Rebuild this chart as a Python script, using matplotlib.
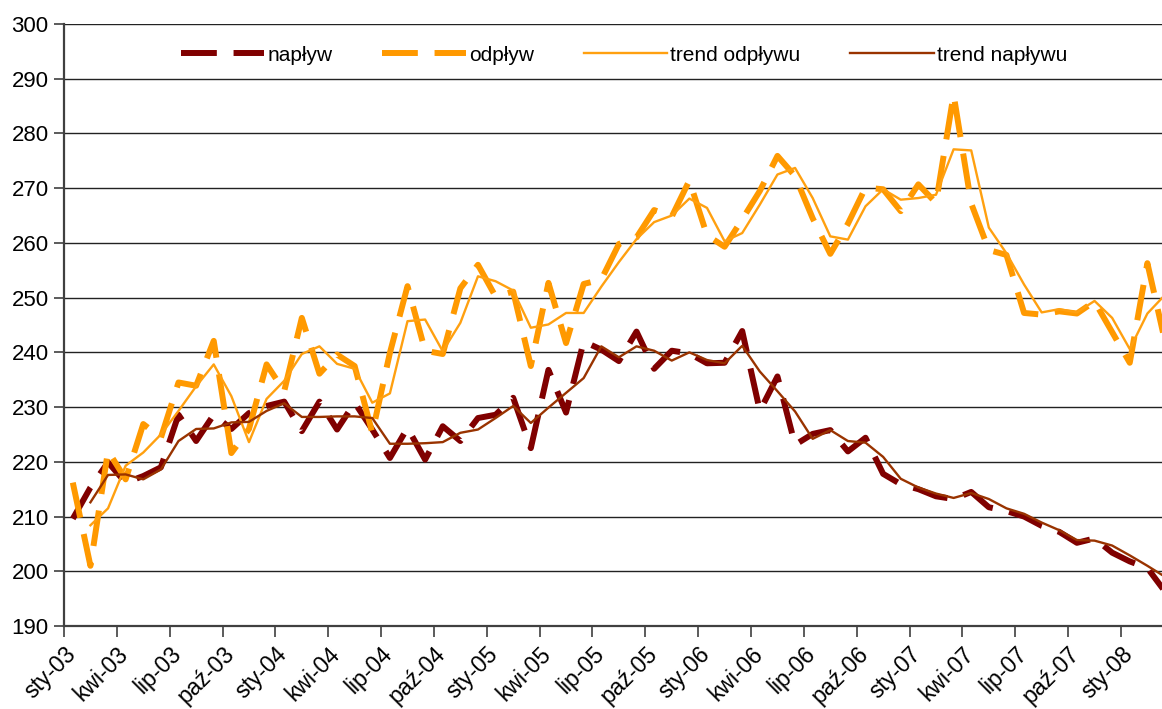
import numpy as np
import matplotlib
matplotlib.use('Agg')
import matplotlib.pyplot as plt

plt.rcParams['font.family'] = ['Liberation Sans', 'DejaVu Sans']

# months sty-03 .. mar-08
month_names = ['sty', 'lut', 'mar', 'kwi', 'maj', 'cze', 'lip', 'sie', 'wrz', 'paź', 'lis', 'gru']
months = [f'{m}-{y:02d}' for y in range(3, 9) for m in month_names][:63]

naplyw = [209.6, 215.3, 219.9, 216.2, 217.4, 219.0, 228.6, 223.8, 228.6, 226.0,
          228.9, 230.2, 231.0, 225.6, 231.0, 225.9, 230.8, 225.9, 220.7, 226.2,
          220.4, 226.5, 223.8, 228.0, 228.6, 231.7, 222.5, 236.8, 229.0, 242.0,
          240.5, 238.4, 243.8, 237.0, 240.3, 239.8, 238.0, 238.1, 243.9, 229.3,
          235.6, 223.1, 225.1, 225.8, 221.9, 224.4, 217.8, 215.9, 215.0, 213.7,
          213.2, 214.5, 211.7, 211.0, 210.0, 208.3, 207.2, 205.2, 206.0, 203.4,
          201.8, 200.6, 196.3]

odplyw = [216.2, 201.0, 222.0, 216.8, 226.9, 224.4, 234.5, 233.9, 242.1, 221.6,
          226.0, 237.8, 232.9, 246.3, 236.1, 239.6, 237.5, 225.3, 239.9, 252.1,
          240.3, 239.7, 251.7, 256.0, 250.2, 251.1, 237.5, 252.7, 241.7, 252.5,
          253.3, 259.8, 261.0, 266.0, 264.8, 271.4, 261.4, 259.3, 264.3, 269.5,
          275.9, 272.2, 264.5, 258.0, 263.5, 270.1, 269.8, 265.8, 270.7, 267.3,
          287.1, 267.2, 258.7, 257.8, 247.2, 246.9, 247.5, 247.1, 249.3, 243.7,
          238.1, 256.3, 242.0]

trend_odplywu = [np.nan, 208.4, 211.5, 219.3, 221.7, 225.0, 229.3, 233.8, 237.8, 232.0,
                 223.6, 231.5, 234.8, 239.7, 241.1, 237.9, 237.0, 230.8, 232.5, 245.7,
                 246.0, 240.2, 245.4, 253.9, 253.0, 251.3, 244.5, 245.1, 247.2, 247.2,
                 252.0, 256.5, 260.7, 263.8, 265.0, 268.1, 266.4, 260.3, 261.8, 267.0,
                 272.5, 273.7, 268.2, 261.2, 260.6, 266.7, 269.8, 267.9, 268.2, 268.8,
                 277.1, 276.9, 262.8, 258.1, 252.4, 247.3, 247.9, 247.3, 249.4, 246.3,
                 240.6, 247.1, 250.5]

trend_naplywu = [np.nan, 212.6, 217.6, 217.7, 216.8, 218.6, 223.8, 226.0, 226.1, 227.2,
                 227.3, 229.3, 230.7, 228.2, 228.2, 228.3, 228.3, 228.0, 223.3, 223.3,
                 223.4, 223.6, 225.3, 225.9, 228.0, 230.2, 227.1, 229.9, 232.6, 235.3,
                 241.1, 239.1, 241.1, 240.3, 238.5, 240.0, 238.6, 238.0, 241.2, 236.5,
                 232.9, 229.2, 224.2, 225.8, 223.8, 223.5, 220.9, 216.9, 215.3, 214.2,
                 213.4, 214.3, 213.2, 211.5, 210.5, 208.9, 207.5, 205.7, 205.6, 204.7,
                 202.9, 201.0, 199.0]

x = np.arange(len(months))

fig = plt.figure(figsize=(11.62, 7.09), dpi=100)
ax = fig.add_axes([64 / 1162, 1 - 626 / 709, 1 - 64 / 1162, (626 - 24) / 709])

ax.plot(x, naplyw, color='#800000', lw=4.3, dashes=(6, 2.8),
        dash_capstyle='butt', label='napływ')
ax.plot(x, odplyw, color='#FF9900', lw=4.3, dashes=(6, 2.8),
        dash_capstyle='butt', label='odpływ')
ax.plot(x, trend_odplywu, color='#FFA010', lw=1.7, label='trend odpływu')
ax.plot(x, trend_naplywu, color='#993300', lw=1.7, label='trend napływu')

ax.set_ylim(190, 300)
ax.set_yticks(np.arange(190, 301, 10))
ax.set_xlim(-0.5, 61.83)

tick_pos = np.arange(0, len(months), 3) - 0.5
ax.set_xticks(tick_pos)
ax.set_xticklabels([months[i] for i in range(0, len(months), 3)],
                   rotation=45, ha='right', va='top', rotation_mode='anchor')

ax.grid(axis='y', color='#222222', lw=1.0)
ax.set_axisbelow(True)
for s in ['top', 'right']:
    ax.spines[s].set_visible(False)
for s in ['left', 'bottom']:
    ax.spines[s].set_color('#404040')
    ax.spines[s].set_linewidth(1.6)

ax.tick_params(axis='y', labelsize=16, colors='black')
ax.tick_params(axis='x', labelsize=16.5, colors='black')
ax.tick_params(axis='x', length=8, width=1.2, color='#404040', pad=4)
ax.tick_params(axis='y', length=7, width=1.2, color='#404040', pad=4)

ax.legend(loc='upper center', bbox_to_anchor=(0.51, 0.995), ncol=4, frameon=False,
          fontsize=15, handlelength=4.0, handletextpad=0.15, columnspacing=2.4)

fig.savefig('out.png', dpi=100)
